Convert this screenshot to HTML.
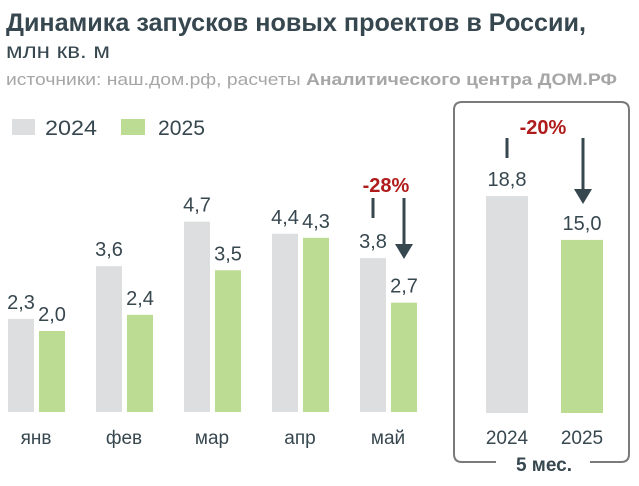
<!DOCTYPE html>
<html><head><meta charset="utf-8"><style>
body{margin:0;background:#fff;width:639px;height:481px;overflow:hidden;font-family:"Liberation Sans","DejaVu Sans",sans-serif}
</style></head><body>
<svg width="639" height="481" viewBox="0 0 639 481" xmlns="http://www.w3.org/2000/svg">
<text x="6" y="31" font-size="25" font-weight="bold" fill="#37474f" textLength="580" lengthAdjust="spacingAndGlyphs">Динамика запусков новых проектов в России,</text>
<text x="6" y="58" font-size="21" fill="#37474f" textLength="104" lengthAdjust="spacingAndGlyphs">млн кв. м</text>
<text x="6" y="85" font-size="17" fill="#a6a6a6" textLength="611" lengthAdjust="spacingAndGlyphs">источники: наш.дом.рф, расчеты <tspan font-weight="bold">Аналитического центра ДОМ.РФ</tspan></text>
<g>
<rect x="12" y="119" width="23" height="16" fill="#dcdee0"/>
<text x="45" y="135" font-size="21" fill="#37474f" textLength="52" lengthAdjust="spacingAndGlyphs">2024</text>
<rect x="121" y="119" width="24" height="16" fill="#bcdb93"/>
<text x="158" y="135" font-size="21" fill="#37474f" textLength="47" lengthAdjust="spacingAndGlyphs">2025</text>
</g>
<g id="bars"></g>
<path d="M462 102 H621 Q629 102 629 110 V454 Q629 462 621 462 H590 M496 462 H462 Q454 462 454 454 V110 Q454 102 462 102" fill="none" stroke="#7a7a7a" stroke-width="2"/>
<text x="544" y="471" font-size="19" font-weight="bold" fill="#37474f" text-anchor="middle">5 мес.</text>
<g>
<text x="386" y="192" font-size="20" font-weight="bold" fill="#b01c1c" text-anchor="middle">-28%</text>
<line x1="373" y1="198" x2="373" y2="218" stroke="#37474f" stroke-width="3"/>
<line x1="404" y1="198" x2="404" y2="245" stroke="#37474f" stroke-width="3"/>
<polygon points="395,244 413,244 404,259" fill="#37474f"/>
</g>
<g>
<text x="543" y="134" font-size="20" font-weight="bold" fill="#b01c1c" text-anchor="middle">-20%</text>
<line x1="507" y1="138" x2="507" y2="158" stroke="#37474f" stroke-width="3"/>
<line x1="583" y1="138" x2="583" y2="190" stroke="#37474f" stroke-width="3"/>
<polygon points="574,189 592,189 583,204" fill="#37474f"/>
</g>
</svg>
<script>
const months = ['янв','фев','мар','апр','май'];
const v2024 = [2.3, 3.6, 4.7, 4.4, 3.8];
const v2025 = [2.0, 2.4, 3.5, 4.3, 2.7];
const totalYears = ['2024','2025'];
const totalValues = [18.8, 15.0];
const NS='http://www.w3.org/2000/svg';
const g=document.getElementById('bars');
function mk(tag,attrs){const e=document.createElementNS(NS,tag);for(const k in attrs)e.setAttribute(k,attrs[k]);g.appendChild(e);return e;}
const base=412, k=40.5;
function yM(v){return base-v*k;}
function fmt(v){return v.toFixed(1).replace('.',',');}
months.forEach((m,i)=>{
  const x0=8+i*88;
  [[v2024[i],'#dcdee0',x0],[v2025[i],'#bcdb93',x0+31]].forEach((d,j)=>{
    const r=mk('rect',{x:d[2],y:yM(d[0]),width:26,height:base-yM(d[0]),fill:d[1]});
    
    
    const t=mk('text',{x:d[2]+13,y:yM(d[0])-10,'font-size':20,fill:'#37474f','text-anchor':'middle'});
    t.textContent=fmt(d[0]);
    
    
  });
  const l=mk('text',{x:x0+28,y:444,'font-size':19,fill:'#37474f','text-anchor':'middle'});
  l.textContent=m;
  
  
});
const tb=413, tk=11.54;
totalValues.forEach((v,i)=>{
  const x=486+i*75, y=tb-v*tk;
  const r=mk('rect',{x:x,y:y,width:42,height:tb-y,fill:i?'#bcdb93':'#dcdee0'});
  
  
  const t=mk('text',{x:x+21,y:y-10,'font-size':20,fill:'#37474f','text-anchor':'middle'});
  t.textContent=fmt(v);
  
  
  const l=mk('text',{x:x+21,y:444,'font-size':19,fill:'#37474f','text-anchor':'middle'});
  l.textContent=totalYears[i];
  
  
});
</script>
</body></html>
